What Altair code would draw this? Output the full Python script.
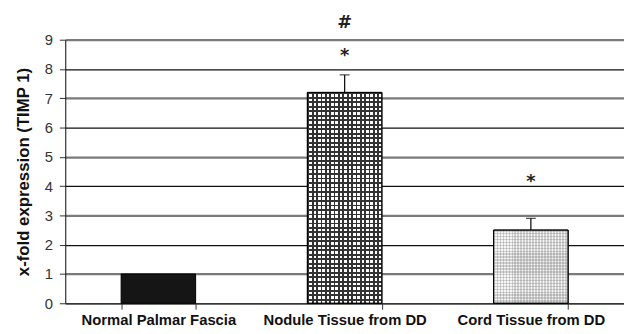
import altair as alt
import pandas as pd

categories = ["Normal Palmar Fascia", "Nodule Tissue from DD", "Cord Tissue from DD"]
values = [1.0, 7.2, 2.5]
err_top = [None, 7.8, 2.9]
marks_cat = ["Nodule Tissue from DD", "Nodule Tissue from DD", "Cord Tissue from DD"]
marks_text = ["#", "*", "*"]
marks_y = [9.56, 8.45, 4.15]

df = pd.DataFrame({"cat": categories, "val": values, "err": err_top})
dfe = df.dropna()
dfm = pd.DataFrame({"cat": marks_cat, "txt": marks_text, "y": marks_y})

W, H = 566, 267

def stripes(n, dark, light, frac, vertical):
    stops = []
    for i in range(n):
        a = i / n
        b = (i + frac) / n
        c = (i + 1) / n
        stops += [alt.GradientStop(offset=a, color=dark), alt.GradientStop(offset=b, color=dark),
                  alt.GradientStop(offset=b, color=light), alt.GradientStop(offset=c, color=light)]
    if vertical:
        return alt.LinearGradient(gradient="linear", stops=stops, x1=0, x2=1, y1=0, y2=0)
    return alt.LinearGradient(gradient="linear", stops=stops, x1=0, x2=0, y1=0, y2=1)

xaxis = alt.Axis(labelAngle=0, tickBand="extent", tickSize=6, tickColor="#333",
                 domainColor="#333", labelFont="Liberation Sans", labelFontWeight="bold",
                 labelFontSize=15, labelColor="#111", labelPadding=4, grid=False,
                 labelOverlap=False)
xscale = alt.Scale(paddingInner=0.6, paddingOuter=0.3)
yaxis = alt.Axis(values=list(range(10)), tickSize=6, tickColor="#333", domainColor="#111",
                 labelFont="Liberation Sans", labelFontSize=15, labelColor="#333",
                 labelPadding=7, labelOverlap=False, titleFont="Liberation Sans", titleFontSize=17,
                 titleFontWeight="bold", titleColor="#111", titlePadding=12,
                 grid=True,
                 gridWidth={"condition": {"test": "datum.value % 2 === 1", "value": 2.2},
                            "value": 1.3},
                 gridColor={"condition": {"test": "datum.value % 2 === 1", "value": "#7a7a7a"},
                            "value": "#111111"})
yscale = alt.Scale(domain=[0, 9], nice=False)
YT = "x-fold expression (TIMP 1)"

def X():
    return alt.X("cat:N", sort=categories, title=None, scale=xscale, axis=xaxis)

def Y(f):
    return alt.Y(f, title=YT, scale=yscale, axis=yaxis)

base = alt.Chart(df).encode(x=X(), y=Y("val:Q"))

normal = base.mark_bar(fill="#151515", stroke="#000", strokeWidth=1).transform_filter(
    alt.datum.cat == categories[0])
nod1 = base.mark_bar(fill=stripes(17, "#333333", "#ffffff", 0.4, True), stroke="#000",
                     strokeWidth=1).transform_filter(alt.datum.cat == categories[1])
nod2 = base.mark_bar(fill=stripes(47, "#333333", "rgba(255,255,255,0)", 0.4, False),
                     stroke="#000", strokeWidth=1).transform_filter(alt.datum.cat == categories[1])
cord1 = base.mark_bar(fill=stripes(25, "#d0d0d0", "#f6f6f6", 0.5, True), stroke="#000",
                      strokeWidth=1).transform_filter(alt.datum.cat == categories[2])
cord2 = base.mark_bar(fill=stripes(25, "rgba(120,120,120,0.3)", "rgba(255,255,255,0)", 0.5, False),
                      stroke="#000", strokeWidth=1).transform_filter(alt.datum.cat == categories[2])

err = alt.Chart(dfe).mark_rule(color="#111", strokeWidth=1.3).encode(
    x=X(), y=Y("val:Q"), y2="err:Q")
cap = alt.Chart(dfe).mark_tick(color="#111", size=10, thickness=1.3).encode(
    x=X(), y=Y("err:Q"))

txt = alt.Chart(dfm).mark_text(font="DejaVu Sans", fontSize=18, fontWeight="bold",
                               color="#222", baseline="middle").encode(
    x=X(), y=Y("y:Q"), text="txt:N")

chart = alt.layer(normal, nod1, nod2, cord1, cord2, err, cap, txt).properties(
    width=W, height=H,
    autosize=alt.AutoSizeParams(type="none"),
    padding={"left": 58, "top": 30, "right": 0, "bottom": 29},
).configure_view(stroke=None).configure(background="white")

chart.save("out.html", embed_options={"renderer": "svg", "actions": False})
